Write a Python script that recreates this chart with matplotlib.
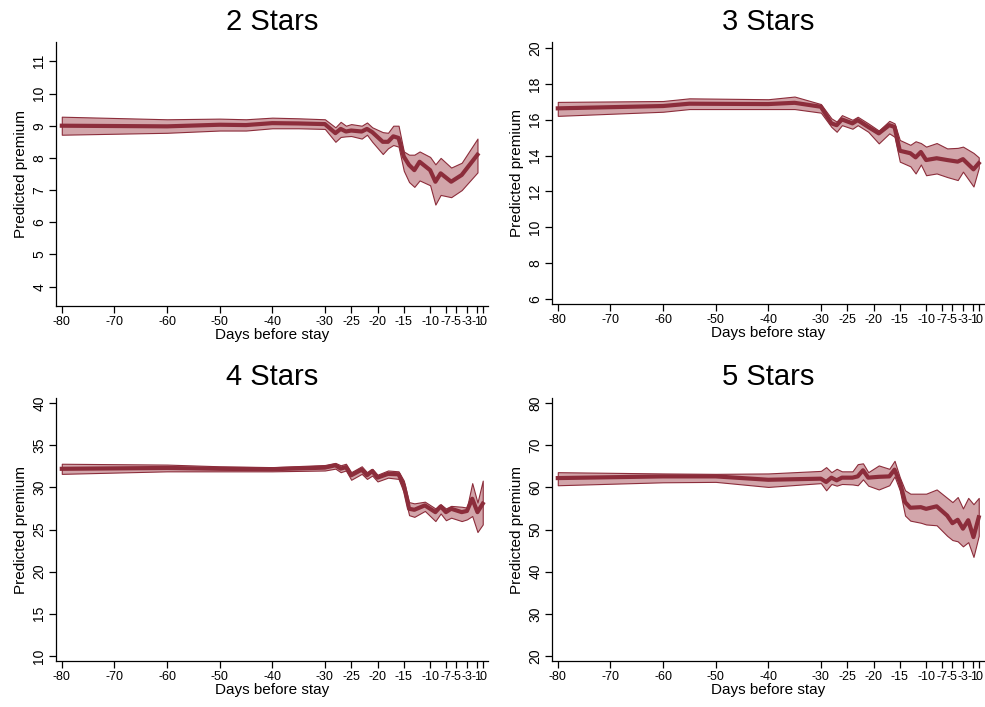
import numpy as np
import matplotlib.pyplot as plt

plt.rcParams['font.family'] = ['Liberation Sans', 'DejaVu Sans']

# x ticks shown on every panel
xticks = [-80, -70, -60, -50, -40, -30, -25, -20, -15, -10, -7, -5, -3, -1, 0]

# 2 Stars
days2 = [-80, -60, -50, -45, -40, -35, -30, -28, -27, -26, -25, -23, -22, -21,
         -19, -18, -17, -16, -15, -14, -13, -12, -10, -9, -8, -6, -4, -1]
mean2 = [9.0, 8.98, 9.03, 9.02, 9.08, 9.07, 9.05, 8.77, 8.9, 8.82, 8.85, 8.82, 8.9, 8.8,
         8.5, 8.5, 8.67, 8.62, 8.04, 7.78, 7.62, 7.88, 7.62, 7.26, 7.52, 7.26, 7.47, 8.1]
upper2 = [9.28, 9.2, 9.22, 9.2, 9.25, 9.23, 9.2, 8.95, 9.12, 9.0, 9.05, 9.0, 9.1, 8.95,
          8.8, 8.78, 9.0, 9.0, 8.2, 8.1, 8.1, 8.2, 8.03, 7.8, 8.0, 7.7, 7.85, 8.6]
lower2 = [8.72, 8.78, 8.85, 8.85, 8.92, 8.92, 8.9, 8.5, 8.65, 8.67, 8.68, 8.6, 8.72, 8.5,
          8.12, 8.3, 8.4, 8.35, 7.6, 7.25, 7.1, 7.3, 7.15, 6.55, 6.85, 6.78, 7.0, 7.55]

# 3 Stars
days3 = [-80, -60, -55, -40, -35, -30, -28, -27, -26, -24, -23, -21, -19,
         -17, -16, -15, -13, -12, -11, -10, -8, -6, -4, -3, -1, 0]
mean3 = [16.64, 16.77, 16.9, 16.88, 16.95, 16.73, 15.8, 15.7, 16.02, 15.8, 15.98, 15.6, 15.24,
         15.7, 15.6, 14.27, 14.13, 13.9, 14.2, 13.75, 13.85, 13.75, 13.66, 13.8, 13.23, 13.57]
upper3 = [17.0, 17.05, 17.2, 17.15, 17.3, 16.88, 16.08, 15.9, 16.26, 16.0, 16.17, 15.8, 15.4,
          15.94, 15.8, 14.87, 14.6, 14.8, 14.7, 14.5, 14.7, 14.4, 14.43, 14.5, 14.15, 13.9]
lower3 = [16.22, 16.45, 16.6, 16.6, 16.6, 16.4, 15.6, 15.33, 15.7, 15.5, 15.7, 15.33, 14.68,
          15.24, 15.05, 13.66, 13.4, 13.0, 13.5, 12.9, 13.0, 12.8, 12.63, 13.1, 12.27, 13.3]

# 4 Stars
days4 = [-80, -60, -50, -40, -30, -28, -27, -26, -25, -23, -22, -21, -20,
         -18, -16, -15, -14, -13, -11, -9, -8, -7, -6, -4, -3, -2, -1, 0]
mean4 = [32.2, 32.3, 32.2, 32.15, 32.34, 32.62, 32.22, 32.4, 31.43, 32.1, 31.43, 31.94, 31.15,
         31.6, 31.55, 30.24, 27.46, 27.34, 27.86, 27.06, 27.74, 27.06, 27.46, 27.06, 27.2, 28.65, 27.06, 28.06]
upper4 = [32.8, 32.7, 32.5, 32.4, 32.65, 32.9, 32.62, 32.8, 31.8, 32.5, 31.8, 32.2, 31.5,
          32.0, 31.9, 30.8, 28.25, 28.1, 28.3, 27.5, 28.0, 27.5, 27.8, 27.7, 27.6, 30.5, 28.2, 30.8]
lower4 = [31.6, 31.9, 31.9, 31.9, 32.0, 32.22, 31.8, 32.0, 30.9, 31.6, 31.0, 31.4, 30.7,
          31.15, 31.0, 29.4, 26.7, 26.5, 27.2, 26.0, 26.9, 26.1, 26.4, 26.0, 26.2, 26.6, 24.7, 25.6]

# 5 Stars
days5 = [-80, -60, -50, -40, -30, -29, -28, -27, -26, -24, -23, -22, -21, -19, -17,
         -16, -15, -14, -13, -11, -10, -8, -6, -5, -4, -3, -2, -1, 0]
mean5 = [62.2, 62.6, 62.6, 61.8, 62.06, 61.27, 62.3, 61.67, 62.3, 62.3, 62.6, 64.05, 62.3, 62.5, 62.6,
         64.2, 61.27, 56.5, 55.16, 55.3, 54.9, 55.5, 53.3, 51.5, 52.3, 50.2, 52.2, 48.2, 52.9]
upper5 = [63.6, 63.3, 63.2, 63.3, 63.9, 64.8, 63.6, 64.4, 63.8, 63.8, 65.5, 65.7, 63.6, 65.2, 64.4,
          66.3, 62.4, 59.3, 58.5, 58.5, 58.5, 59.5, 57.5, 56.5, 57.7, 55.0, 57.5, 56.0, 57.5]
lower5 = [60.5, 61.2, 61.3, 60.1, 61.0, 59.3, 60.8, 60.4, 60.8, 60.7, 60.5, 61.9, 60.4, 59.5, 60.5,
          62.6, 59.3, 53.3, 52.1, 51.6, 51.2, 51.0, 48.5, 47.5, 47.2, 46.0, 47.0, 43.5, 48.5]

line_col = '#8C2D3B'
band_col = '#D2A5AA'

W, H = 985, 707
fig = plt.figure(figsize=(W / 100, H / 100), dpi=100)

def panel(px, title, days, mean, lo, hi, yticks, ylim):
    # px = left, top, right, bottom in pixels
    l, t, r, b = px
    ax = fig.add_axes([l / W, 1 - b / H, (r - l) / W, (b - t) / H])
    ax.fill_between(days, lo, hi, facecolor=band_col, edgecolor=line_col, linewidth=0.8, zorder=1)
    ax.plot(days, mean, color=line_col, linewidth=3.0, zorder=2, solid_joinstyle='round')
    ax.set_xlim(-81.1, 1.0)
    ax.set_ylim(*ylim)
    ax.set_xticks(xticks)
    ax.set_xticklabels([str(x) for x in xticks], fontsize=9)
    ax.set_yticks(yticks)
    ax.set_yticklabels([str(y) for y in yticks], fontsize=10, rotation=90, va='center')
    for s in ['top', 'right']:
        ax.spines[s].set_visible(False)
    ax.spines['left'].set_linewidth(0.9)
    ax.spines['bottom'].set_linewidth(0.9)
    ax.tick_params(axis='both', direction='out', length=5, width=0.9, pad=2)
    ax.set_xlabel('Days before stay', fontsize=11, labelpad=0)
    ax.set_ylabel('Predicted premium', fontsize=11, labelpad=3)
    ax.set_title(title, fontsize=21, pad=9)
    return ax

panel((56, 42, 488, 306), '2 Stars', days2, mean2, lower2, upper2, range(4, 12), (3.4, 11.6))
panel((552, 42, 984, 304), '3 Stars', days3, mean3, lower3, upper3, range(6, 21, 2), (5.7, 20.35))
panel((56, 398, 488, 661), '4 Stars', days4, mean4, lower4, upper4, range(10, 41, 5), (9.4, 40.6))
panel((552, 398, 984, 661), '5 Stars', days5, mean5, lower5, upper5, range(20, 81, 10), (18.8, 81.2))

fig.savefig('out.png', dpi=100, facecolor='white')
